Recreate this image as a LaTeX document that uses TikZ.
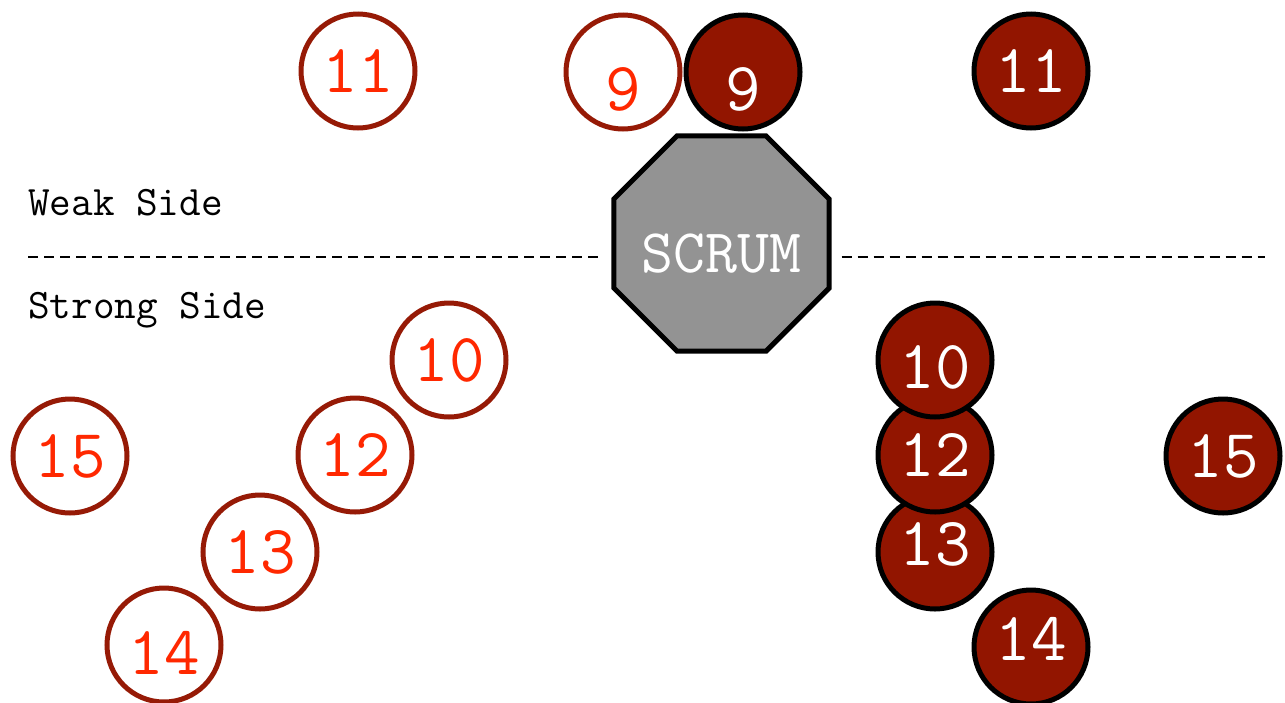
\documentclass[tikz,border=0pt]{standalone}
\usetikzlibrary{shapes.geometric}
\definecolor{teamred}{RGB}{146,21,0}
\definecolor{ringred}{RGB}{150,26,6}
\definecolor{numred}{RGB}{255,40,0}
\definecolor{scrumgray}{RGB}{147,147,147}
\begin{document}
\begin{tikzpicture}[x=1pt,y=-1pt,
  num/.style={circle, line width=5pt, minimum size=114pt, inner sep=0pt,
    font=\fontsize{69}{69}\ttfamily, text height=42pt, text depth=0pt},
  away/.style={num, draw=ringred, fill=white, text=numred},
  home/.style={num, draw=black, fill=teamred, text=white},
  scrumbox/.style={regular polygon, regular polygon sides=8, draw=black,
    line width=5pt, fill=scrumgray, minimum size=233pt, inner sep=0pt,
    text=white, font=\fontsize{62}{62}\ttfamily, text height=38pt, text depth=0pt},
  sidelabel/.style={anchor=base west, inner sep=0pt, font=\fontsize{42}{42}\ttfamily},
  divider/.style={line width=2pt, dash pattern=on 10pt off 6pt}]
\useasboundingbox (0,0) rectangle (1285,702);
\clip (0,0) rectangle (1285,702);

% scrum
\node[scrumbox] (scrum) at (721.5,243.5) {\makebox[0pt]{\raisebox{-10pt}{SCRUM}}};

% side labels and divider
\node[sidelabel] (weak) at (28,215) {Weak Side};
\node[sidelabel] (strong) at (28,318) {Strong Side};
\coordinate (dl) at (28,257);
\coordinate (dr) at (1265,257);
\draw[divider] (dl) -- ([xshift=-8pt]scrum.west |- dl);
\draw[divider] ([xshift=10pt]scrum.east |- dr) -- (dr);

% away team (white)
\node[away] (a11) at (358,71) {11};
\node[away] (a9) at (623,72) {\raisebox{-17pt}{9}};
\node[away] (a10) at (449,360) {10};
\node[away] (a15) at (70,456) {15};
\node[away] (a12) at (355,455) {12};
\node[away] (a13) at (260,552) {13};
\node[away] (a14) at (164,645) {\raisebox{-8pt}{14}};

% home team (red)
\node[home] (h9) at (743,72) {\raisebox{-17pt}{9}};
\node[home] (h11) at (1031,71) {11};
\node[home] (h13) at (935,552) {\raisebox{8pt}{13}};
\node[home] (h12) at (935,455) {12};
\node[home] (h10) at (935,360) {\raisebox{-7pt}{10}};
\node[home] (h14) at (1031,647) {\raisebox{8pt}{14}};
\node[home] (h15) at (1223,456) {15};
\end{tikzpicture}
\end{document}
